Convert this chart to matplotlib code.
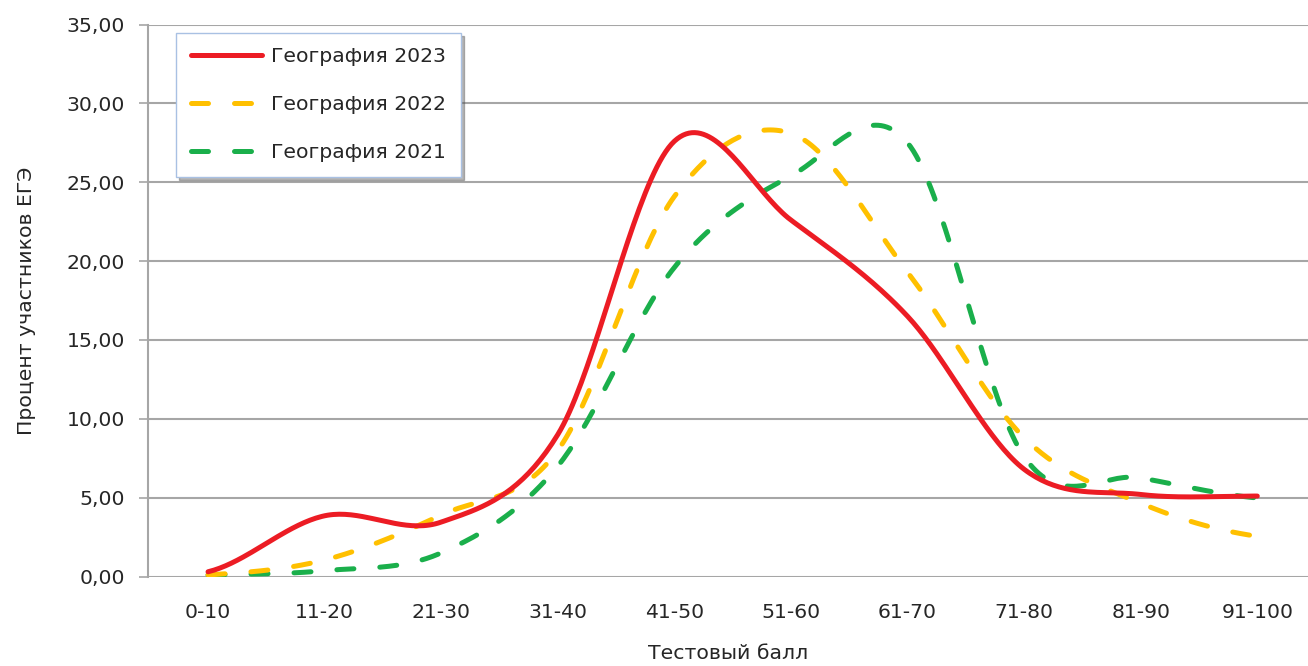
import numpy as np
import matplotlib.pyplot as plt

# score bands and share of participants (%)
bands = ['0-10', '11-20', '21-30', '31-40', '41-50', '51-60', '61-70', '71-80', '81-90', '91-100']
geo_2023 = [0.3, 3.85, 3.45, 9.0, 27.6, 22.6, 16.5, 6.8, 5.2, 5.1]
geo_2022 = [0.1, 1.05, 3.9, 8.0, 24.1, 28.1, 19.3, 8.8, 4.65, 2.55]
geo_2021 = [0.1, 0.37, 1.5, 7.0, 19.6, 25.4, 27.5, 7.6, 6.25, 4.98]
labels = ['География 2023', 'География 2022', 'География 2021']


def smooth(y, steps=40):
    # catmull-rom through the points, like excel's "smoothed line"
    y = np.asarray(y, dtype=float)
    x = np.arange(len(y), dtype=float)
    p = np.concatenate([[y[0]], y, [y[-1]]])
    xs, ys = [], []
    t = np.linspace(0, 1, steps, endpoint=False)
    for i in range(len(y) - 1):
        p0, p1, p2, p3 = p[i], p[i + 1], p[i + 2], p[i + 3]
        m1 = (p2 - p0) / 2
        m2 = (p3 - p1) / 2
        h00 = 2 * t**3 - 3 * t**2 + 1
        h10 = t**3 - 2 * t**2 + t
        h01 = -2 * t**3 + 3 * t**2
        h11 = t**3 - t**2
        xs.append(x[i] + t)
        ys.append(h00 * p1 + h10 * m1 + h01 * p2 + h11 * m2)
    xs.append([x[-1]])
    ys.append([y[-1]])
    return np.concatenate(xs), np.concatenate(ys)


W, H = 1308, 666
fig = plt.figure(figsize=(W / 100, H / 100), dpi=100)
ax = fig.add_axes([148 / W, 1 - 576.5 / H, (1308 - 148) / W, 552 / H])

grid_col = '#a6a6a6'
txt_col = '#262626'
fs = 14.7

x1, y1 = smooth(geo_2023)
x2, y2 = smooth(geo_2022)
x3, y3 = smooth(geo_2021)

ax.plot(x3, y3, color='#1aaf4b', lw=3.6, dashes=(3.4, 5.2), dash_capstyle='round', label=labels[2], zorder=3)
ax.plot(x2, y2, color='#ffc000', lw=3.6, dashes=(3.4, 5.2), dash_capstyle='round', label=labels[1], zorder=3)
ax.plot(x1, y1, color='#ec1c24', lw=3.6, solid_capstyle='round', label=labels[0], zorder=4)

ax.set_xlim(-0.515, 9.435)
ax.set_ylim(0, 35)
ax.set_yticks(np.arange(0, 36, 5))
ax.yaxis.set_major_formatter(lambda v, p: f'{v:.2f}'.replace('.', ','))
ax.set_xticks(range(len(bands)))
ax.set_xticklabels(bands)

ax.grid(axis='y', color=grid_col, lw=1.5)
ax.set_axisbelow(True)
for s in ['top', 'right', 'bottom']:
    ax.spines[s].set_visible(False)
ax.spines['left'].set_color(grid_col)
ax.spines['left'].set_linewidth(1.5)

ax.tick_params(axis='y', length=6.5, width=1.2, color=grid_col, pad=10, labelsize=fs, labelcolor=txt_col)
ax.tick_params(axis='x', length=0, pad=19, labelsize=fs, labelcolor=txt_col)

ax.set_xlabel('Тестовый балл', fontsize=fs, color=txt_col, labelpad=16)
ax.set_ylabel('Процент участников ЕГЭ', fontsize=fs, color=txt_col, labelpad=22)

h, l = ax.get_legend_handles_labels()
order = [2, 1, 0]
leg = ax.legend([h[i] for i in order], [l[i] for i in order], loc='upper left',
                bbox_to_anchor=(0.024, 0.985), borderaxespad=0, fontsize=fs,
                labelspacing=1.42, handlelength=3.5, handletextpad=0.45, borderpad=0.72,
                fancybox=False, framealpha=1, edgecolor='#a9c1e3',
                shadow={'color': '0.3', 'alpha': 0.4})
leg.get_frame().set_linewidth(1.0)
for t in leg.get_texts():
    t.set_color(txt_col)

fig.savefig('out.png', dpi=100)
